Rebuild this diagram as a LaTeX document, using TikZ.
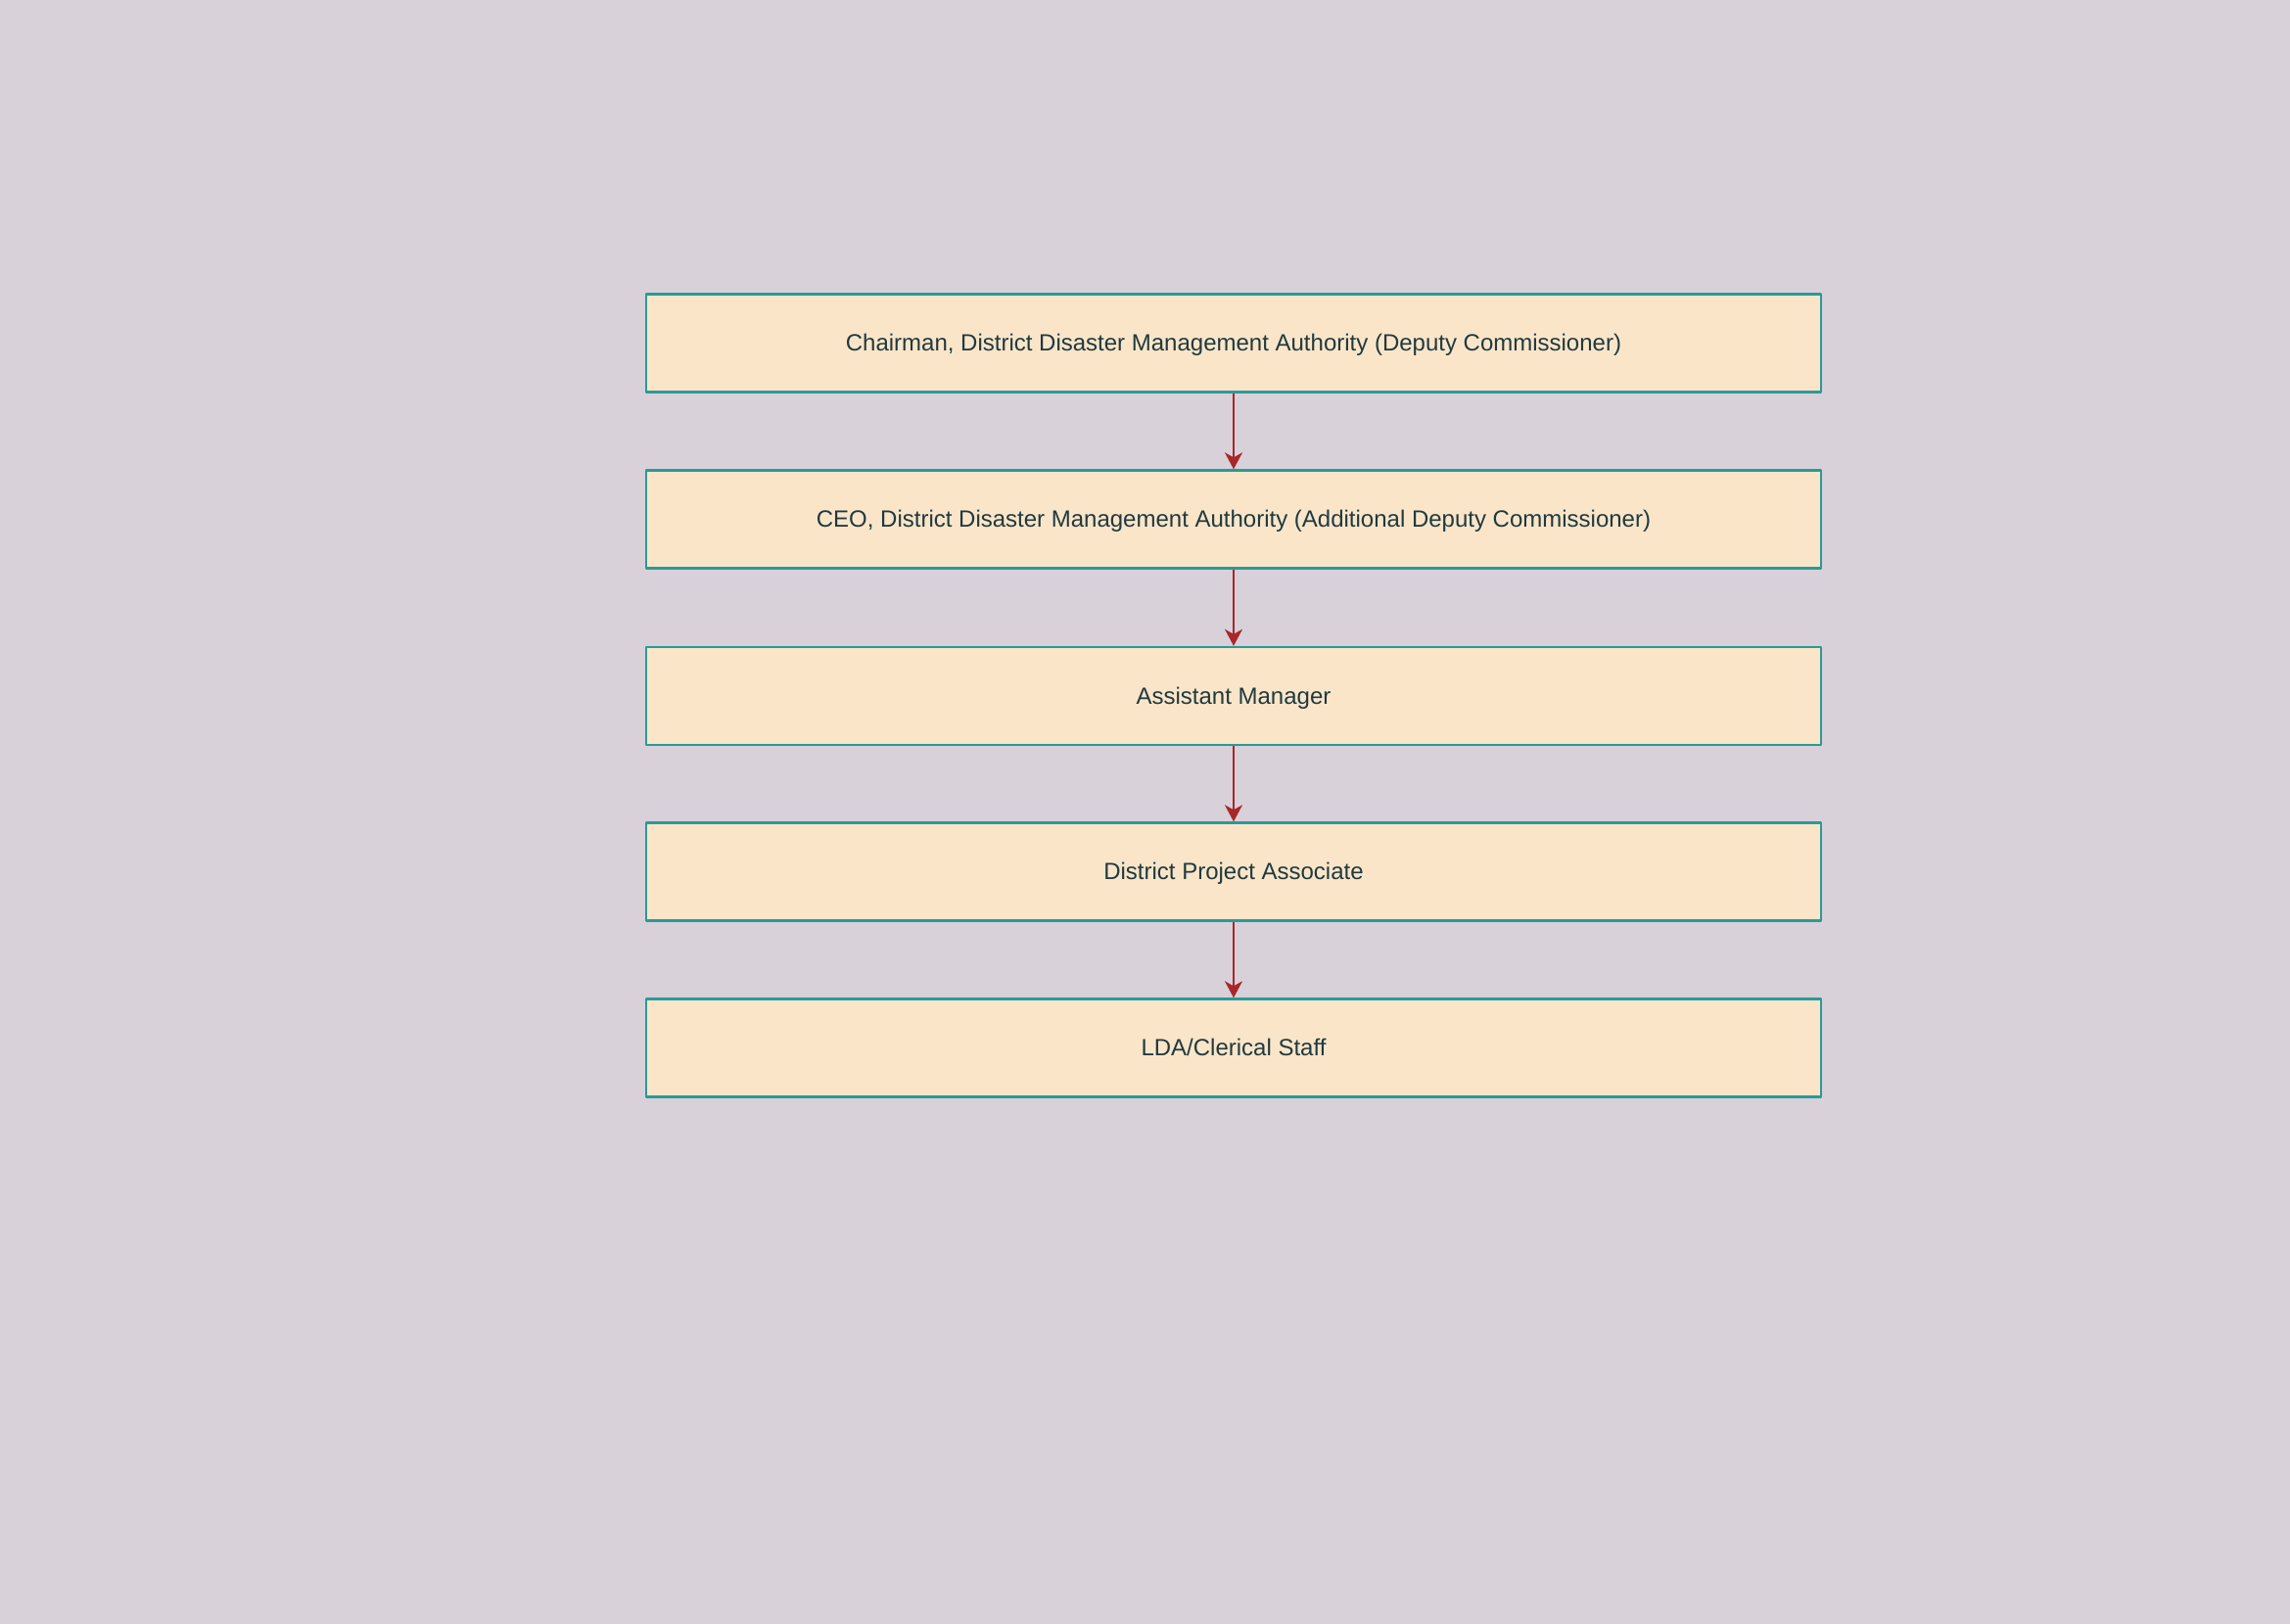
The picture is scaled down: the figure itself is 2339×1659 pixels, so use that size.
\documentclass[tikz,border=0pt]{standalone}
\usepackage{fontspec}
\setmainfont{Liberation Sans}
\usetikzlibrary{arrows.meta}
\definecolor{pagebg}{HTML}{D8D1DA}
\definecolor{boxfill}{HTML}{FBE5C8}
\definecolor{boxline}{HTML}{2A9A98}
\definecolor{linkred}{HTML}{A8282A}
\definecolor{textdark}{HTML}{1F3A40}
\tikzset{
  post/.style={draw=boxline, line width=1.2pt, fill=boxfill, text=textdark,
    minimum width=600pt, minimum height=50pt, inner sep=0pt, text height=10.6pt, text depth=2.6pt,
    font=\fontsize{12}{14}\selectfont},
  report/.style={draw=linkred, line width=1pt, -{Stealth[length=8.5pt,width=9pt,inset=2.5pt]}}
}
\begin{document}
\begin{tikzpicture}[x=0.5pt, y=-0.5pt, line join=round]
                \fill[pagebg] (0,0) rectangle (2339,1659);
                \useasboundingbox (0,0) rectangle (2339,1659);
                % chain of posts
                \node[post] (chair) at (1260,350.5) {Chairman, District Disaster Management Authority (Deputy Commissioner)};
                \node[post] (ceo) at (1260,530.5) {CEO, District Disaster Management Authority (Additional Deputy Commissioner)};
                \node[post] (asst) at (1260,711) {Assistant Manager};
                \node[post] (dpa) at (1260,890.5) {District Project Associate};
                \node[post] (lda) at (1260,1070.5) {LDA/Clerical Staff};
                % reporting lines
                \draw[report] (chair.south) -- (ceo.north);
                \draw[report] (ceo.south) -- (asst.north);
                \draw[report] (asst.south) -- (dpa.north);
                \draw[report] (dpa.south) -- (lda.north);
\end{tikzpicture}
\end{document}
